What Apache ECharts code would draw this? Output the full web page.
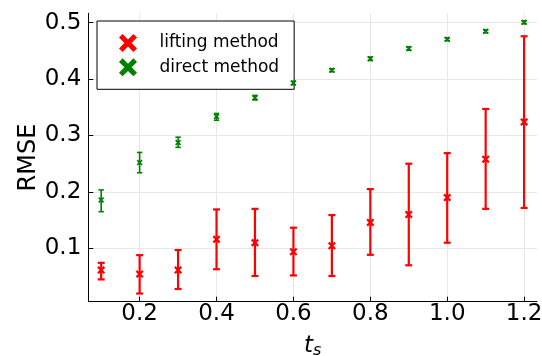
<!DOCTYPE html>
<html>
<head>
<meta charset="utf-8">
<script src="https://cdn.jsdelivr.net/npm/echarts@6/dist/echarts.min.js"></script>
<style>html,body{margin:0;padding:0;background:#fff;}#c{width:542px;height:356px;}</style>
</head>
<body>
<div id="c"></div>
<script>
const ts = [0.1, 0.2, 0.3, 0.4, 0.5, 0.6, 0.7, 0.8, 0.9, 1.0, 1.1, 1.2];
const liftMean = [0.0615, 0.0544, 0.0615, 0.116, 0.110, 0.094, 0.1046, 0.146, 0.160, 0.190, 0.258, 0.324];
const liftLow  = [0.045, 0.020, 0.028, 0.063, 0.051, 0.052, 0.051, 0.0886, 0.070, 0.110, 0.170, 0.1716];
const liftHigh = [0.0744, 0.088, 0.097, 0.169, 0.170, 0.1366, 0.159, 0.205, 0.250, 0.2687, 0.347, 0.4758];
const directMean = [0.1858, 0.252, 0.2876, 0.3337, 0.367, 0.393, 0.4155, 0.436, 0.454, 0.4705, 0.4847, 0.5007];
const directLow  = [0.165, 0.234, 0.279, 0.327, 0.363, 0.390, 0.413, 0.433, 0.451, 0.468, 0.482, 0.498];
const directHigh = [0.2036, 0.270, 0.297, 0.339, 0.371, 0.396, 0.418, 0.439, 0.457, 0.473, 0.487, 0.503];
const xTicks = [0.2, 0.4, 0.6, 0.8, 1.0, 1.2];
const yTicks = [0.1, 0.2, 0.3, 0.4, 0.5];
const seriesNames = ['lifting method', 'direct method'];

const RED = '#ff0000', GREEN = '#008000';
const XPATH = 'path://M0,2 L2,0 L5,3 L8,0 L10,2 L7,5 L10,8 L8,10 L5,7 L2,10 L0,8 L3,5 Z';
const FONT = 'DejaVu Sans';

function errData(low, high) { return ts.map((t, i) => [t, low[i], high[i]]); }
function errRender(color, lw, cap) {
  return function (params, api) {
    const x = api.value(0);
    const lo = api.coord([x, api.value(1)]);
    const hi = api.coord([x, api.value(2)]);
    const st = { stroke: color, lineWidth: lw };
    return { type: 'group', children: [
      { type: 'line', shape: { x1: lo[0], y1: lo[1], x2: hi[0], y2: hi[1] }, style: st },
      { type: 'line', shape: { x1: lo[0] - cap, y1: lo[1], x2: lo[0] + cap, y2: lo[1] }, style: st },
      { type: 'line', shape: { x1: hi[0] - cap, y1: hi[1], x2: hi[0] + cap, y2: hi[1] }, style: st }
    ]};
  };
}

const chart = echarts.init(document.getElementById('c'), null, { renderer: 'canvas' });
chart.setOption({
  animation: false,
  backgroundColor: '#fff',
  textStyle: { fontFamily: FONT },
  grid: { left: 88.3, right: 5, top: 13.3, bottom: 54.3, containLabel: false, outerBoundsMode: 'none' },
  xAxis: {
    type: 'value', min: 0.0665, max: 1.2335,
    axisLine: { lineStyle: { color: '#000', width: 1 } },
    axisTick: { inside: true, length: 5, customValues: xTicks, lineStyle: { color: '#000' } },
    axisLabel: { customValues: xTicks, color: '#000', fontSize: 23, fontFamily: FONT, margin: 1,
      formatter: v => v.toFixed(1) },
    splitLine: { show: true, lineStyle: { color: '#e8e8e8', width: 1 } },
    name: '{t|t}{s|s}', nameLocation: 'middle', nameGap: 32, nameMoveOverlap: false,
    nameTextStyle: { rich: {
      t: { fontSize: 23, fontStyle: 'italic', fontFamily: FONT, color: '#000' },
      s: { fontSize: 16, fontStyle: 'italic', fontFamily: FONT, color: '#000', verticalAlign: 'bottom', padding: [9, 0, 0, 0] }
    } }
  },
  yAxis: {
    type: 'value', min: 0.0055, max: 0.5165,
    axisLine: { show: true, lineStyle: { color: '#000', width: 1 } },
    axisTick: { show: true, inside: true, length: 5, customValues: yTicks, lineStyle: { color: '#000' } },
    axisLabel: { customValues: yTicks, color: '#000', fontSize: 23, fontFamily: FONT, margin: 7,
      formatter: v => v.toFixed(1) },
    splitLine: { show: true, lineStyle: { color: '#e8e8e8', width: 1 } },
    name: 'RMSE', nameLocation: 'middle', nameGap: 48, nameMoveOverlap: false,
    nameTextStyle: { fontSize: 24, fontFamily: FONT, color: '#000' }
  },
  legend: {
    data: seriesNames.map(n => ({ name: n, icon: XPATH })),
    orient: 'vertical', left: 97, top: 21,
    itemWidth: 19, itemHeight: 18, itemGap: 6.3,
    padding: [13, 15, 13, 22],
    backgroundColor: '#fff', borderColor: '#000', borderWidth: 1, borderRadius: 0,
    textStyle: { fontSize: 17, fontFamily: FONT, color: '#000', padding: [0, 0, 0, 17] }
  },
  series: [
    { type: 'custom', name: 'lift-err', data: errData(liftLow, liftHigh), renderItem: errRender(RED, 2.2, 3.5), z: 2, silent: true },
    { type: 'scatter', name: seriesNames[0], data: ts.map((t, i) => [t, liftMean[i]]),
      symbol: XPATH, symbolSize: 8, itemStyle: { color: RED, opacity: 1 }, z: 3 },
    { type: 'custom', name: 'direct-err', data: errData(directLow, directHigh), renderItem: errRender(GREEN, 1.6, 2.7), z: 4, silent: true },
    { type: 'scatter', name: seriesNames[1], data: ts.map((t, i) => [t, directMean[i]]),
      symbol: XPATH, symbolSize: 6, itemStyle: { color: GREEN, opacity: 1 }, z: 5 }
  ]
});
</script>
</body>
</html>
